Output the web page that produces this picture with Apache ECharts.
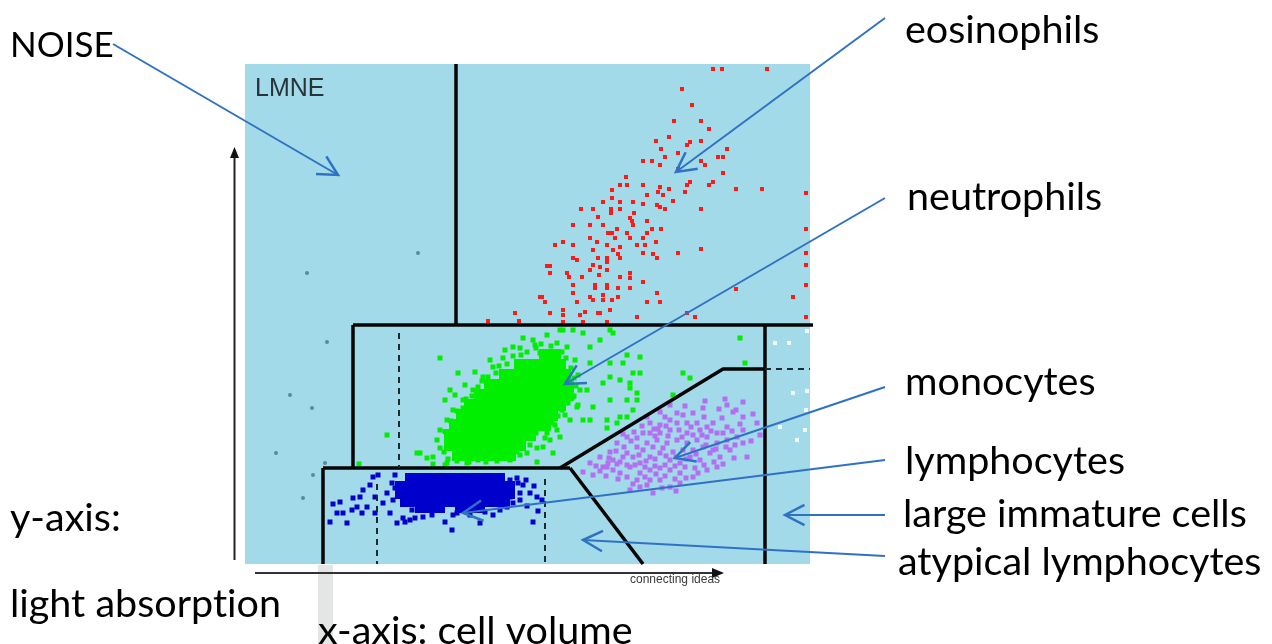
<!DOCTYPE html>
<html>
<head>
<meta charset="utf-8">
<script src="https://cdn.jsdelivr.net/npm/echarts@6/dist/echarts.min.js"></script>
<style>
html,body{margin:0;padding:0;background:#fff;}
#c{width:1272px;height:644px;}
</style>
</head>
<body>
<div id="c"></div>
<script>
// ---------- data (instrument channels: x = cell volume, y = light absorption) ----------
const eosinophils = [
[93.6,99.0],[95.4,99.0],[104.4,99.0],[87.4,95.0],[89.4,91.8],[85.8,88.6],[91.2,88.6],[92.8,87.0],
[84.8,85.4],[82.2,84.6],[89.0,84.4],[88.4,83.8],[91.2,84.6],[83.2,83.0],[96.4,83.0],[86.6,82.2],
[84.0,81.4],[94.6,81.4],[95.6,81.4],[79.6,80.6],[81.4,80.6],[91.2,80.6],[83.0,79.8],[92.0,79.8],
[86.6,79.0],[95.6,78.2],[76.2,77.4],[89.0,76.4],[88.4,75.8],[93.6,76.4],[92.8,75.8],[75.0,75.8],
[76.4,75.8],[73.4,74.8],[79.6,75.8],[83.0,75.4],[82.6,74.4],[83.6,73.8],[84.8,75.0],[88.0,74.4],
[98.2,75.0],[103.4,75.0],[112.2,74.2],[73.4,73.2],[75.0,72.4],[71.6,72.4],[77.6,72.4],[80.4,73.8],
[85.6,72.6],[79.6,72.0],[82.4,71.8],[83.0,71.4],[84.0,71.0],[67.2,71.0],[69.6,71.0],[73.2,71.0],
[73.2,70.2],[75.0,71.0],[77.8,70.2],[91.2,71.0],[77.0,69.2],[77.4,68.6],[70.6,69.4],[80.4,68.6],
[65.6,67.8],[69.0,67.8],[71.6,67.8],[77.6,67.8],[83.2,67.0],[112.2,67.0],[74.4,67.0],[72.6,66.2],
[73.4,66.2],[81.4,67.0],[76.4,66.2],[77.0,65.2],[79.6,65.2],[80.4,66.2],[69.0,65.2],[70.4,64.4],
[74.0,65.2],[62.0,63.8],[63.6,64.4],[65.6,63.8],[72.4,63.8],[75.0,63.4],[78.4,63.8],[80.0,63.8],
[82.2,64.4],[69.6,62.8],[73.6,62.8],[79.6,62.2],[81.6,62.0],[82.4,61.2],[86.6,62.2],[91.2,63.0],
[112.2,62.2],[65.6,61.2],[66.4,60.8],[70.6,61.2],[72.4,61.2],[72.4,60.4],[74.6,62.0],[75.0,61.2],
[69.6,59.8],[71.0,59.4],[60.4,59.6],[61.0,59.6],[61.0,58.2],[64.4,58.2],[64.8,57.4],[67.4,57.4],
[69.0,58.8],[70.8,57.8],[72.4,58.8],[75.0,57.4],[77.0,58.2],[77.0,57.2],[79.6,56.4],[112.2,59.8],
[65.6,55.8],[70.0,55.8],[70.0,55.2],[72.4,55.8],[72.4,55.2],[74.6,55.2],[77.0,55.2],[82.4,54.2],
[98.2,55.0],[112.2,55.8],[59.4,53.4],[60.0,52.4],[65.6,54.2],[69.0,53.4],[69.6,52.8],[71.6,53.8],
[71.6,52.8],[73.4,52.8],[74.6,53.4],[80.4,52.4],[83.0,52.4],[66.4,52.4],[109.6,53.4],[61.0,50.2],
[63.6,50.8],[63.6,49.8],[68.0,50.4],[70.6,50.2],[73.0,50.8],[78.4,49.4],[88.4,50.2],[90.0,49.4],
[112.2,49.4],[63.6,48.4],[67.6,48.4],[72.4,48.4],[54.0,50.2],[48.6,48.6],[54.8,48.6],[59.0,53.4],
[67.0,49.8],[71.0,50.2]
];
const neutrophilsDense = [
[60,41.8],[62,41.8],
[55,39.8],[57,39.8],[59,39.8],[61,39.8],[63,39.8],
[52,37.8],[54,37.8],[56,37.8],[58,37.8],[60,37.8],[62,37.8],[64,37.8],
[49,35.8],[51,35.8],[53,35.8],[55,35.8],[57,35.8],[59,35.8],[61,35.8],[63,35.8],[64.6,35.8],
[47,33.8],[49,33.8],[51,33.8],[53,33.8],[55,33.8],[57,33.8],[59,33.8],[61,33.8],[63,33.8],[64.6,33.8],
[45,31.8],[47,31.8],[49,31.8],[51,31.8],[53,31.8],[55,31.8],[57,31.8],[59,31.8],[61,31.8],[63,31.8],
[43.4,29.8],[45.4,29.8],[47.4,29.8],[49.4,29.8],[51.4,29.8],[53.4,29.8],[55.4,29.8],[57.4,29.8],[59.4,29.8],[61.4,29.8],
[42,27.8],[44,27.8],[46,27.8],[48,27.8],[50,27.8],[52,27.8],[54,27.8],[56,27.8],[58,27.8],[60,27.8],
[41,25.8],[43,25.8],[45,25.8],[47,25.8],[49,25.8],[51,25.8],[53,25.8],[55,25.8],[57,25.8],
[41,23.8],[43,23.8],[45,23.8],[47,23.8],[49,23.8],[51,23.8],[53,23.8],[55,23.8],
[42.6,21.8],[44.6,21.8],[46.6,21.8],[49,21.8],[51,21.8],[53,21.8]
];
const neutrophilsSparse = [
[39,41.2],[42.6,38.2],[28.4,25.8],[35,22.2],[22.8,20],[37.6,20],[36.4,21.2],[34.4,22.2],[37.6,21.4],
[40.4,20.2],[44.4,20.2],[53,20.8],[54.4,22.4],[56.4,22.2],[58.4,20.4],[59.6,23.4],[61.6,22.2],
[60.4,26.2],[62.4,26.8],[65,28.8],[67.6,28.8],[66.4,31.4],[69.6,31.4],[65.6,33.4],[68.4,34.8],
[71.6,36.2],[73,37.4],[75,36.8],[77,36.2],[77.6,38.2],[75.6,40.2],[73,40.2],[69,40.2],[69,43.4],
[71,44.8],[73.6,46.2],[67.6,46.2],[65.6,46.8],[63.6,46.8],[60.4,45.8],[57.6,44.8],[55.6,45.2],
[53.6,43.4],[51.6,41.2],[49.6,39.4],[47.6,37.4],[45.6,34.8],[43.6,32.8],[41.6,30.8],[40.4,28.8],
[39,26.8],[38.4,24.8],[76.4,32.8],[72.4,28.8],[74.4,28.2],[76.4,29.4],[77.6,30.8],[78.4,34.2],
[79,41.4],[62.4,44.2],[64.4,43.4],[61,40.8],[59,42.2],[63,46.8],[73,46.8],[76.4,41.8],[99,45.2],
[100,40.2],[87.6,38.2],[89,37.2],[79,38.2],[77,35.2],[75,29.4],[78.4,32.8],[73,32.8],[69,28.8],
[72.4,27.2],[61,24.8],[63,25.4],[58.4,23.2],[85.6,33.8],
[42,33.8],[44,35.8],[46,38.4],[49,40.8],[52,42.8],[55,43.2],[58,43.8],[66,40.8],[66.6,37.8],
[67,34.8],[66.6,31.8],[64,29.8],[62,27.8],[60,25.2],[57,23.8],[55,21.8],[40,19.8],[39,23.2],
[40,32.8],[41,34.8],
[40,26.5],[41.2,28.6],[42.4,30.6],[43.6,31.2],[44.2,33],[45.4,33.6],[46.6,35.4],[47.4,36.6],[48.6,37.4],
[50.2,38.2],[50.8,39.6],[52.4,40],[53.6,41.6],[55.2,41.8],[56.4,42.4],[58.2,43.2],[59.2,44],[61.2,43.6],
[63.4,42.4],[64.2,41.2],[48.2,20.4],[50.4,20.6],[52.6,22.6],[54.6,23.4],[56.6,25.2],[58.2,26.2],
[59.6,27.4],[61.4,28.2],[62.6,29.6],[63.4,30.8],[64.6,32.2],[65.8,33.6],[66.2,35.6],[65.8,37.2],
[65.2,39.2],[39.8,22.4],[40.6,21],[42.4,20.6],[44.8,20.4],[46.6,20.8]
];
const lymphocytesDense = [
[33,17.2],[35,17.2],[37,17.2],[39,17.2],[41,17.2],[43,17.2],[45,17.2],[47,17.2],[49,17.2],[51,17.2],
[31,15.6],[33,15.6],[35,15.6],[37,15.6],[39,15.6],[41,15.6],[43,15.6],[45,15.6],[47,15.6],[49,15.6],[51,15.6],[53,15.6],
[31,14],[33,14],[35,14],[37,14],[39,14],[41,14],[43,14],[45,14],[47,14],[49,14],[51,14],[53,14],
[32,12.4],[34,12.4],[36,12.4],[38,12.4],[40,12.4],[42,12.4],[44,12.4],[46,12.4],[48,12.4],[50,12.4],[52,12.4],
[35,11.2],[37,11.2],[39,11.2],[43,11.2],[45,11.2],[47,11.2]
];
const lymphocytesSparse = [
[17,8.4],[18.4,10.2],[19.6,10.2],[20.4,8.2],[21.6,13.2],[22.4,11.4],[21.4,10.8],[23.6,14.8],[25,15.8],
[25.6,17.4],[26.6,17.8],[24.4,11.4],[23.4,10.2],[26,10.2],[26,13.4],[27.6,12.2],[28.4,14.2],[29.4,16.2],
[30,17.8],[29,10.2],[30.4,8.2],[31.6,9.2],[32,8.4],[33,8.8],[34,9.2],[35.6,9.4],[37.4,9.8],[40,8.4],
[41.4,6.8],[41.6,9.8],[42.4,10.2],[45,9.8],[47,8.2],[49.6,9.8],[51,10.8],[52.4,11.4],[51,13.2],
[53,13.4],[53.6,12.2],[55,12.8],[55,14.2],[55.6,15.8],[52.4,15.8],[51,17.4],[54.4,17.2],[57,14.2],
[58.4,13.4],[59.4,12.8],[57.6,8.4],[17.6,12],[19,12.4],[23,13.4],
[30,15.2],[29.6,12.8],[52,14.8],[53,16.8],[48,10.4],[44,10.8],[38.4,10.8],[33.4,10.8],
[54.6,16.2],[56.2,16.8],[57.8,15.6],[56.4,11.6],[58.6,10.6]
];
const monocytes = [
[96.4,31.8],[99.6,32.4],[97.6,30.4],[99.6,29.4],[89.6,30.2],[86.4,30.2],[85,31.8],[93.6,28.2],
[96.4,27.4],[91,26.8],[88.4,26.2],[85,26.8],[83,27.8],[81,28.2],[79.6,26.2],[76.4,25.4],[74.4,24.2],
[73,22.4],[71,21.4],[69,20.2],[67.6,18.4],[69.6,17.8],[72.4,19.4],[75,20.4],[76.4,22.2],[78.4,23.4],
[80.4,24.2],[82.4,24.8],[84.4,24.2],[86.4,24.8],[88.4,24.2],[90.4,24.8],[92.4,25.4],[94.4,24.2],
[96.4,24.8],[98.4,25.4],[99.6,24.2],[97,22.8],[95,21.4],[93,22.2],[91,20.8],[89,21.4],[87,20.2],
[85,20.8],[83,22.2],[81,21.4],[79,20.2],[77,19.4],[75,18.2],[79,18.2],[81,18.8],[83,19.2],[85,18.8],
[87,18.2],[83,16.8],[81,16.8],[79,15.4],[77,14.8],[81.6,14.2],[85,15.4],[87,16.2],[89.6,17.4],
[92.4,18.8],[94.4,19.4],[100.4,21.4],[79.6,22.8],[81.6,23.4],[83.6,23.2],[85.6,22.4],[87.6,22.8],
[89.6,22.8],[91.6,23.4],[93.6,22.8],[77.6,21.4],[75.6,21.4],[73.6,20.8],[71.6,19.4],[73.6,18.8],
[76.4,17.4],[78.4,16.8],[86.4,28.2],[88.4,28.2],[90.4,28.2],[92.4,27.4],[94.4,26.2],[83,26.2],
[81,26.2],[78.4,25.2],[80.4,29.4],[83,30.4],[85,28.8],[99.6,26.8],[102.4,28.2],[103,25.8],
[70.2,19.6],[72.8,21.2],[74.2,22.6],[75.8,23.4],[77.2,24.6],[78.8,21.8],[80.2,20.6],[82,21],[84.2,21.6],
[86.2,21.4],[88.2,21],[90.2,22],[92.2,23.8],[94.2,23],[96.2,23.4],[98,23.8],[97.8,21.2],[95.6,20],
[93.8,20.4],[91.8,19.8],[90,19.2],[88,19.4],[86,19.6],[84,19.8],[82,19.6],[80,19.4],[78,19.8],
[76.4,19.8],[74.4,20],[72.6,20.2],[71,18.6],[72.2,17.6],[74.6,17],[77.6,16],[80,17.4],[82.2,18],
[84,17.6],[86,17],[88.2,17.2],[90.6,18.2],[83.4,15.2],[86.2,14.6],[80.4,15.8],[82.6,27],[84.2,27.6],
[86.8,26.8],[89.2,27.4],[91.4,25.8],[93.2,26.6],[95.6,26.2],[97.4,26.6],[99,28],[95.4,29.2],
[91.8,29.4],[87.6,29.8],[84,29.4],[81.8,27],[79.4,27.6],[77.8,26.4],[75.6,26],[82,25.6],[84.6,25.6],
[87.4,25.4],[89.6,25.8],[101.2,24.6],[101.6,30],[98.2,30.8],[94.8,31],[91.6,31.2],[88,31.6],[96,33],[92,32.6]
];
const noise = [[12.4,58.2],[34.6,62.2],[16.4,44.4],[9.0,33.8],[13.4,31.2],[6.2,22.2],[16.0,20.2],[13.6,17.8],[11.6,13.2]];
const largeImmature = [[106,44.2],[108.8,44.2],[112.4,46.6],[109.6,34.2],[112.4,34.6],[112.2,30.8],[107,27.4],[112,26.8],[110.4,24.8]];

// gating boundaries (same channel units)
const gateSolid = [
  [[42.2,100],[42.2,47.8]],
  [[21.6,47.8],[118,47.8]],
  [[21.6,47.8],[21.6,19.2]],
  [[15.6,19.2],[65,19.2]],
  [[15.6,19.2],[15.6,0]],
  [[63,19.2],[95.6,39],[104,39]],
  [[65,19.2],[79.6,0]],
  [[104,47.8],[104,0]]
];
const gateDashed = [
  [[30.8,46.2],[30.8,19.2]],
  [[26.4,16],[26.4,0]],
  [[60,17],[60,0]],
  [[104,39],[113,39]]
];

// annotation labels
const labels = ['NOISE','eosinophils','neutrophils','monocytes','lymphocytes','large immature cells','atypical lymphocytes','y-axis:','light absorption','x-axis: cell volume'];

// ---------- chart ----------
const chart = echarts.init(document.getElementById('c'), null, {renderer:'canvas'});
const FONT = 'Lato, "Open Sans", sans-serif';
const BLUE = '#2f72c4';

function scatter(name, data, color, size, symbol, z){
  return {type:'scatter', name, data, symbol: symbol||'rect', symbolSize:size,
    itemStyle:{color, opacity:1}, z: z||2, silent:true, clip:false, animation:false};
}
const series = [
  scatter('noise', noise, '#5d8996', 4, 'circle'),
  scatter('large immature', largeImmature, '#f2fbfd', 4),
  scatter('eosinophils', eosinophils, '#ff1a1a', 4),
  scatter('neutrophils dense', neutrophilsDense, '#00ee00', 12),
  scatter('neutrophils', neutrophilsSparse, '#00ee00', 5),
  scatter('lymphocytes dense', lymphocytesDense, '#0000cc', 10),
  scatter('lymphocytes', lymphocytesSparse, '#0000cc', 5),
  scatter('monocytes', monocytes, '#b36ef2', 5)
];
gateSolid.forEach(seg => series.push({type:'line', data:seg, symbol:'none', clip:false, silent:true, z:5,
  lineStyle:{color:'#050505', width:3.5}, animation:false}));
gateDashed.forEach(seg => series.push({type:'line', data:seg, symbol:'none', clip:false, silent:true, z:5,
  lineStyle:{color:'#1a2a30', width:2, type:[6,5]}, animation:false}));

// annotation arrows (pixel layout of the slide overlay)
function arrow(x1,y1,x2,y2){
  const ang = Math.atan2(y2-y1, x2-x1), L = 22, a = Math.PI/6.5;
  const p1 = [x2 - L*Math.cos(ang-a), y2 - L*Math.sin(ang-a)];
  const p2 = [x2 - L*Math.cos(ang+a), y2 - L*Math.sin(ang+a)];
  return [
    {type:'line', shape:{x1,y1,x2,y2}, style:{stroke:BLUE, lineWidth:2}, z:20},
    {type:'polyline', shape:{points:[p1,[x2,y2],p2]}, style:{stroke:BLUE, lineWidth:2.5, fill:null}, z:20}
  ];
}
const arrowsDef = [
  [113,44,338,175],[885,18,676,172],[885,198,565,384],[885,387,675,458],
  [885,460,463,513],[885,515,785,515],[885,556,583,540]
];
const labelPos = [[10,46],[905,30],[907,197],[905,382],[905,461],[903,514],[898,562],[10,518],[10,604],[318,631]];
const labelSize = [35,39.5,39.5,39.5,39.5,39.5,39.5,39.5,39.5,39.5];

// canvas text would merge "t"+"i" into a ligature in Lato; split such words into pieces
const measureCtx = document.createElement('canvas').getContext('2d');
function textPieces(t, size){
  const parts = t.split(/(?<=t)(?=i)/);
  const out = []; let off = 0;
  measureCtx.font = size + 'px ' + FONT;
  parts.forEach(p => { out.push([p, off]); off += measureCtx.measureText(p).width; });
  return out;
}

const graphic = [];
// faint scan stripe under the plot
graphic.push({type:'rect', shape:{x:318,y:565,width:15,height:79}, style:{fill:'#e4e6e6'}, z:0});
arrowsDef.forEach(a => graphic.push(...arrow(...a)));
labels.forEach((t,i) => textPieces(t, labelSize[i]).forEach(([p,off]) => graphic.push({type:'text',
  x:labelPos[i][0] + off, y:labelPos[i][1], z:21,
  style:{text:p, fontSize:labelSize[i], fontFamily:FONT, fill:'#000', verticalAlign:'middle', align:'left'}})));
// panel title & axis arrows
graphic.push({type:'text', x:255, y:89, z:21, style:{text:'LMNE', fontSize:25, fontFamily:'"Liberation Sans", Arial, sans-serif', fill:'#2a3338', verticalAlign:'middle'}});
graphic.push({type:'text', x:630, y:580, z:21, style:{text:'connecting ideas', fontSize:12, fontFamily:'"Liberation Sans", Arial, sans-serif', fill:'#3a3a3a', verticalAlign:'middle'}});
graphic.push({type:'line', shape:{x1:234.5,y1:560,x2:234.5,y2:156}, style:{stroke:'#222', lineWidth:2}, z:10});
graphic.push({type:'polygon', shape:{points:[[234.5,147],[230,158],[239,158]]}, style:{fill:'#111'}, z:10});
graphic.push({type:'line', shape:{x1:255,y1:573,x2:715,y2:573}, style:{stroke:'#333', lineWidth:2}, z:10});
graphic.push({type:'polygon', shape:{points:[[724,573],[712,568],[712,578]]}, style:{fill:'#111'}, z:10});

function draw(){
  chart.setOption({
    animation:false,
    backgroundColor:'#ffffff',
    grid:{left:245, top:64, width:565, height:500, show:true, backgroundColor:'#a2daea', borderWidth:0},
    xAxis:{type:'value', min:0, max:113, show:false},
    yAxis:{type:'value', min:0, max:100, show:false},
    series,
    graphic
  });
}
draw();
</script>
</body>
</html>
